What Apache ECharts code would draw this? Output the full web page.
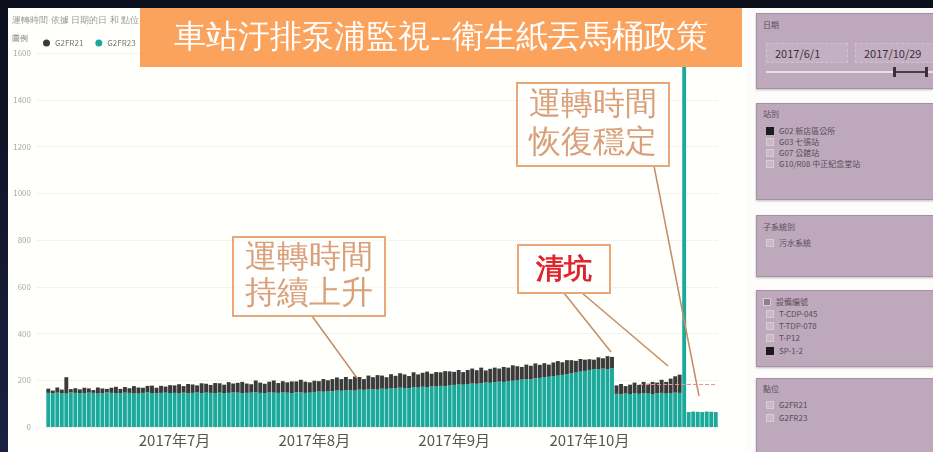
<!DOCTYPE html>
<html>
<head>
<meta charset="utf-8">
<script src="https://cdn.jsdelivr.net/npm/echarts@6/dist/echarts.min.js"></script>
<style>
  html, body { margin: 0; padding: 0; }
  body {
    width: 933px; height: 452px; overflow: hidden; position: relative;
    background: linear-gradient(180deg, #0c0f1c 0%, #1b2142 100%);
    font-family: "Noto Sans CJK TC", "Noto Sans", sans-serif;
  }
  #chart { position: absolute; left: 8px; top: 8px; width: 737px; height: 444px; background: #fffffb; }
  #side { position: absolute; left: 745px; top: 8px; width: 188px; height: 444px; background: #fdfcfb; }
  .box { position: absolute; left: 11px; width: 190px; background: #bea8bc; border: 1px solid #a58fa2;
    box-shadow: 0 1px 2px rgba(0,0,0,0.25); color: #5a4d58; font-size: 8px; }
  .box .hd { position: absolute; left: 6px; }
  .row { position: absolute; left: 9px; height: 10px; line-height: 10px; white-space: nowrap; }
  .row i { display: inline-block; width: 6px; height: 6px; border: 1px solid #d8cad6; background: #cbb8c9; margin-right: 5px; vertical-align: -1px; }
  .row i.on { background: #1c1c1c; border-color: #1c1c1c; }
  .inp { position: absolute; top: 29px; height: 18px; line-height: 18px; font-size: 11px; color: #3a3038; padding-left: 8px;
    border: 1px dashed #d2c2cf; background: #c4b0c2; }
</style>
</head>
<body>
<div id="chart"></div>
<div id="side">
  <div class="box" style="top:5px;height:74px;">
    <div class="hd" style="top:5px;">日期</div>
    <div class="inp" style="left:9px;width:72px;">2017/6/1</div>
    <div class="inp" style="left:98px;width:90px;">2017/10/29</div>
    <div style="position:absolute;left:9px;top:57px;width:170px;height:2px;background:#e8dde6;"></div>
    <div style="position:absolute;left:137px;top:57px;width:33px;height:2px;background:#4a3f48;"></div>
    <div style="position:absolute;left:136px;top:53px;width:3px;height:10px;background:#3a3038;"></div>
    <div style="position:absolute;left:168px;top:53px;width:3px;height:10px;background:#3a3038;"></div>
  </div>
  <div class="box" style="top:95px;height:95px;">
    <div class="hd" style="top:4px;">站別</div>
    <div class="row" style="top:22px;"><i class="on"></i>G02 新店區公所</div>
    <div class="row" style="top:33px;"><i></i>G03 七張站</div>
    <div class="row" style="top:44px;"><i></i>G07 公館站</div>
    <div class="row" style="top:55px;"><i></i>G10/R08 中正紀念堂站</div>
  </div>
  <div class="box" style="top:207px;height:60px;">
    <div class="hd" style="top:5px;">子系統別</div>
    <div class="row" style="top:22px;"><i></i>污水系統</div>
  </div>
  <div class="box" style="top:282px;height:75px;">
    <div class="row" style="top:6px;left:6px;"><i style="background:#8f7f8d;"></i>設備編號</div>
    <div class="row" style="top:18px;"><i></i>T-CDP-045</div>
    <div class="row" style="top:30px;"><i></i>T-TDP-078</div>
    <div class="row" style="top:42px;"><i></i>T-P12</div>
    <div class="row" style="top:55px;"><i class="on"></i>SP-1-2</div>
  </div>
  <div class="box" style="top:370px;height:90px;">
    <div class="hd" style="top:4px;">點位</div>
    <div class="row" style="top:21px;"><i></i>G2FR21</div>
    <div class="row" style="top:34px;"><i></i>G2FR23</div>
  </div>
</div>
<script>
  // 日期：2017/6/1 ~ 2017/10/29，每日一筆
  const startDay = Date.UTC(2017, 5, 1)
  const dayCount = 151
  const days = []
  for (let i = 0; i < dayCount; i++) {
    days.push(new Date(startDay + i * 86400000).toISOString().slice(0, 10))
  }

  // G2FR23 運轉時間（底部，青綠）
  const tealJun = [null, null, 146, 144, 147, 145, 143, 148, 146, 145, 144, 147, 146, 143, 145, 148, 146, 144, 145, 147, 146, 145, 143, 146, 148, 145, 144, 146, 147, 145]
  const tealJul = [146, 145, 147, 144, 146, 148, 145, 147, 146, 144, 147, 145, 146, 148, 147, 145, 146, 147, 149, 146, 145, 148, 147, 146, 148, 147, 145, 149, 148, 146, 147]
  const tealAug = [150, 152, 151, 154, 153, 156, 155, 158, 157, 156, 160, 159, 162, 161, 160, 164, 163, 166, 165, 168, 167, 166, 170, 169, 172, 171, 174, 173, 176, 175, 178]
  const tealSep = [180, 182, 181, 184, 186, 185, 188, 190, 189, 192, 194, 193, 196, 198, 200, 203, 205, 204, 208, 210, 213, 215, 218, 220, 223, 226, 230, 233, 237, 240]
  const tealOct = [244, 248, 246, 250, 247, 252, 142, 140, 143, 141, 144, 142, 145, 143, 141, 144, 146, 143, 145, 147, 146, 1600, 64, 66, 65, 64, 66, 65, 64]

  // G2FR21 運轉時間（疊在上方，深灰）
  const darkJun = [null, null, 18, 12, 22, 15, 70, 14, 20, 16, 24, 18, 12, 26, 20, 15, 22, 28, 18, 24, 20, 30, 26, 22, 28, 32, 24, 30, 26, 34]
  const darkJul = [32, 38, 28, 40, 36, 30, 42, 38, 34, 44, 40, 36, 46, 38, 42, 48, 40, 36, 50, 44, 40, 46, 52, 42, 48, 44, 50, 46, 54, 48, 44]
  const darkAug = [48, 44, 54, 46, 52, 56, 50, 56, 48, 60, 54, 46, 58, 52, 62, 56, 50, 60, 54, 62, 58, 52, 64, 56, 60, 66, 54, 62, 58, 64, 60]
  const darkSep = [56, 62, 54, 60, 64, 58, 66, 52, 60, 62, 56, 64, 58, 66, 60, 54, 62, 58, 64, 56, 60, 52, 58, 62, 54, 60, 56, 50, 54, 48]
  const darkOct = [46, 40, 52, 44, 56, 48, 36, 44, 32, 40, 46, 38, 48, 42, 52, 46, 56, 50, 62, 70, 78, 0, 0, 0, 0, 0, 0, 0, 0]

  const teal = [].concat(tealJun, tealJul, tealAug, tealSep, tealOct)
  const dark = [].concat(darkJun, darkJul, darkAug, darkSep, darkOct)

  // 參考線
  const refValue = 185
  const refFrom = '2017-10-12'
  const refTo = '2017-10-29'

  const yTicks = [0, 200, 400, 600, 800, 1000, 1200, 1400, 1600]

  const tan = '#d9a07a'
  const boxLine = '#eaa878'
  const leader = '#c48c68'

  let chart = echarts.init(document.getElementById('chart'))
  let option = {
    animation: false,
    textStyle: {fontFamily: '"Noto Sans CJK TC", "Noto Sans", sans-serif'},
    legend: {
      data: ['G2FR21', 'G2FR23'],
      left: 30, top: 26,
      icon: 'circle', itemWidth: 7, itemHeight: 7, itemGap: 12,
      textStyle: {fontSize: 8, color: '#777'}
    },
    grid: {left: 29, right: 27, top: 45, bottom: 25},
    xAxis: {
      type: 'category',
      data: days,
      axisLine: {show: false},
      axisTick: {show: false},
      axisLabel: {
        interval: (i, v) => i > 0 && v.slice(8) === '01',
        formatter: v => v.slice(0, 4) + '年' + Number(v.slice(5, 7)) + '月',
        fontSize: 15, color: '#555', margin: 6
      }
    },
    yAxis: {
      type: 'value',
      min: yTicks[0], max: yTicks[yTicks.length - 1], interval: 200,
      axisLabel: {fontSize: 8, color: '#aaa', margin: 6, formatter: v => String(v)},
      splitLine: {lineStyle: {color: '#e6e6e6', type: 'dotted'}}
    },
    series: [
      {
        name: 'G2FR23', type: 'bar', stack: 'run',
        data: teal, barCategoryGap: '14%',
        itemStyle: {color: '#1ba99b'},
        markLine: {
          silent: true, symbol: 'none',
          lineStyle: {color: '#ec8fa2', type: 'dashed', width: 1},
          label: {show: false},
          data: [[{xAxis: refFrom, yAxis: refValue}, {xAxis: refTo, yAxis: refValue}]]
        }
      },
      {
        name: 'G2FR21', type: 'bar', stack: 'run',
        data: dark,
        itemStyle: {color: '#3a3a3a'}
      }
    ],
    graphic: [
      {type: 'text', left: 4, top: 8, style: {text: '運轉時間 依據 日期的日 和 點位', fontSize: 9, fill: '#999'}},
      {type: 'text', left: 4, top: 27, style: {text: '圖例', fontSize: 8, fill: '#777'}},
      // 標題
      {type: 'rect', shape: {x: 132, y: 0, width: 602, height: 59}, style: {fill: '#fba35c'}, z: 100},
      {type: 'text', x: 433, y: 30, z: 101,
        style: {text: '車站汙排泵浦監視--衛生紙丟馬桶政策', fontSize: 32, fontWeight: 500, fill: '#fff', align: 'center', verticalAlign: 'middle'}},
      // 運轉時間持續上升
      {type: 'line', shape: {x1: 304, y1: 308, x2: 349, y2: 370}, style: {stroke: leader, lineWidth: 1.5}, z: 90},
      {type: 'rect', shape: {x: 225, y: 229, width: 152, height: 79}, style: {fill: 'rgba(255,255,255,0.55)', stroke: boxLine, lineWidth: 2}, z: 90},
      {type: 'text', x: 301, y: 268, z: 91,
        style: {text: '運轉時間\n持續上升', fontSize: 32, lineHeight: 36, fill: tan, align: 'center', verticalAlign: 'middle', fontWeight: 300}},
      // 清坑
      {type: 'line', shape: {x1: 556, y1: 285, x2: 603, y2: 344}, style: {stroke: leader, lineWidth: 1.5}, z: 90},
      {type: 'line', shape: {x1: 574, y1: 285, x2: 660, y2: 358}, style: {stroke: leader, lineWidth: 1.5}, z: 90},
      {type: 'rect', shape: {x: 510, y: 237, width: 92, height: 48}, style: {fill: 'rgba(255,255,255,0.7)', stroke: boxLine, lineWidth: 2}, z: 90},
      {type: 'text', x: 556, y: 262, z: 91,
        style: {text: '清坑', fontSize: 28, fill: '#e0242c', fontWeight: 'bold', align: 'center', verticalAlign: 'middle'}},
      // 運轉時間恢復穩定
      {type: 'line', shape: {x1: 646, y1: 158, x2: 691, y2: 388}, style: {stroke: leader, lineWidth: 1.5}, z: 90},
      {type: 'rect', shape: {x: 509, y: 75, width: 152, height: 83}, style: {fill: 'rgba(255,255,255,0.55)', stroke: boxLine, lineWidth: 2}, z: 90},
      {type: 'text', x: 585, y: 116, z: 91,
        style: {text: '運轉時間\n恢復穩定', fontSize: 32, lineHeight: 38, fill: tan, align: 'center', verticalAlign: 'middle', fontWeight: 300}}
    ]
  }
  chart.setOption(option)
</script>
</body>
</html>
